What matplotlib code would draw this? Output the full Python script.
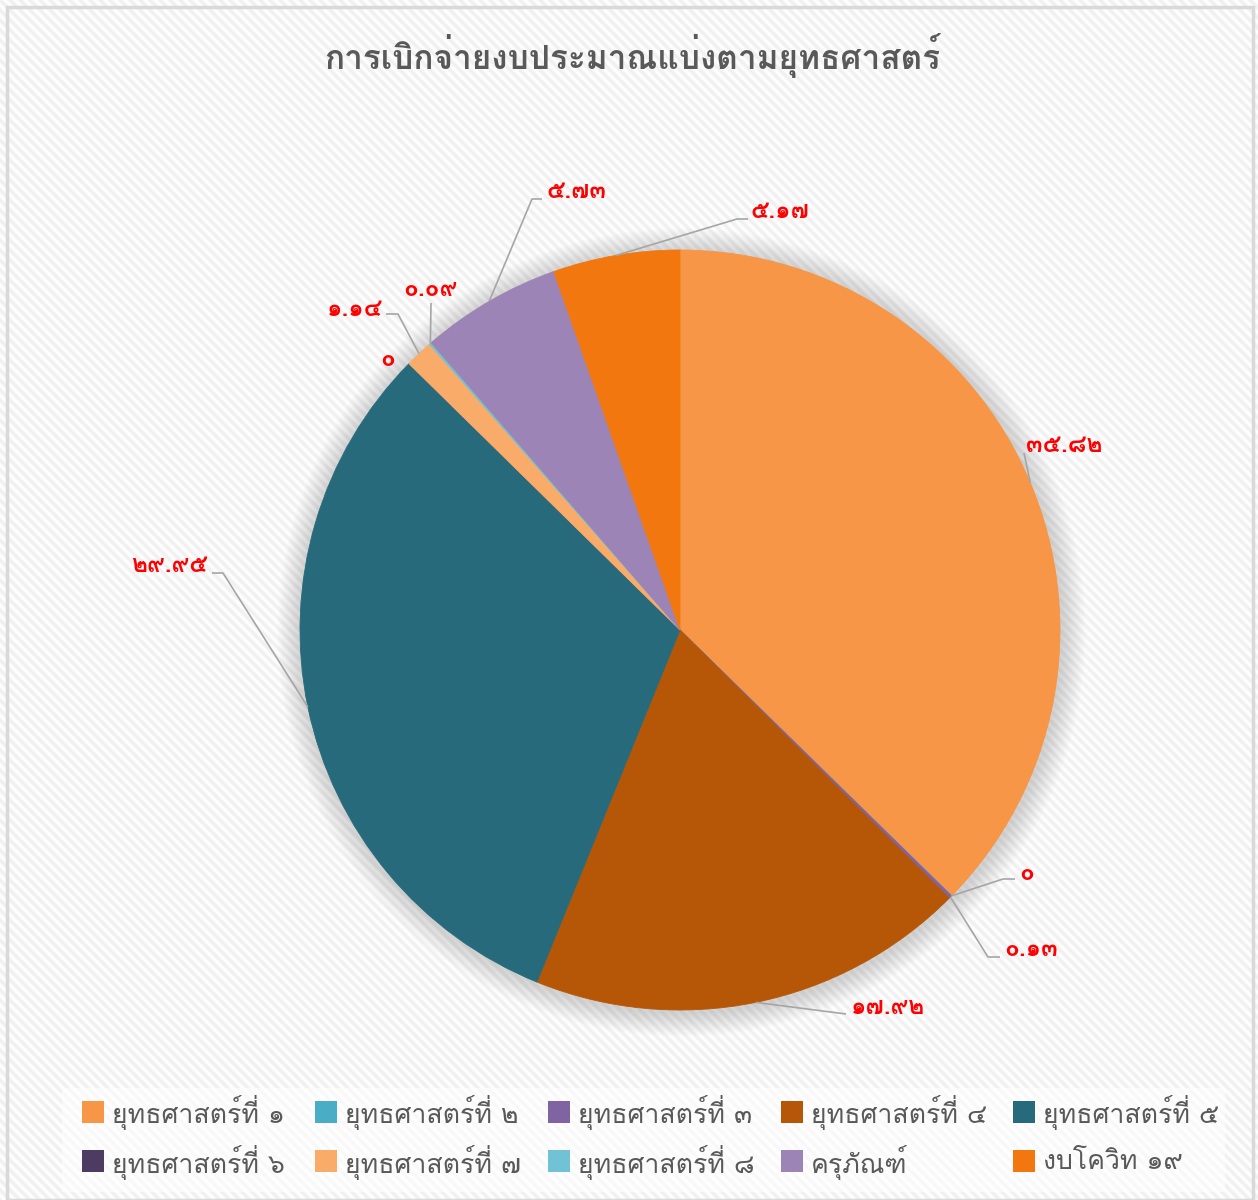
import matplotlib
matplotlib.use("Agg")
import matplotlib.pyplot as plt
import matplotlib.patches as mpatches
import numpy as np

# ---------------- data ----------------
title = "การเบิกจ่ายงบประมาณแบ่งตามยุทธศาสตร์"
categories = ["ยุทธศาสตร์ที่ ๑", "ยุทธศาสตร์ที่ ๒", "ยุทธศาสตร์ที่ ๓", "ยุทธศาสตร์ที่ ๔",
              "ยุทธศาสตร์ที่ ๕", "ยุทธศาสตร์ที่ ๖", "ยุทธศาสตร์ที่ ๗", "ยุทธศาสตร์ที่ ๘",
              "ครุภัณฑ์", "งบโควิท ๑๙"]
values = [35.82, 0, 0.13, 17.92, 29.95, 0, 1.14, 0.09, 5.73, 5.17]
value_labels = ["๓๕.๘๒", "๐", "๐.๑๓", "๑๗.๙๒", "๒๙.๙๕", "๐", "๑.๑๔", "๐.๐๙", "๕.๗๓", "๕.๑๗"]
colors = ["#F79646", "#4BACC6", "#8064A2", "#B65708", "#276A7C",
          "#4D3B62", "#F9AC6A", "#72C2D6", "#9C84B6", "#F2770F"]

# ---------------- layout ----------------
W, H = 1258, 1200
CX, CY, R = 680, 630, 380          # pie centre / radius in pixels
TXT = "#595959"
FONT = ["Loma", "Noto Sans Thai", "DejaVu Sans"]
LFONT = ["Loma", "Noto Sans Thai Looped", "DejaVu Sans"]

def P(px, py):
    return ((px - CX) / R, (CY - py) / R)

fig = plt.figure(figsize=(W / 100, H / 100), dpi=100)
fig.patch.set_facecolor("white")

# striped background
yy, xx = np.mgrid[0:H, 0:W]
phase = ((xx - yy) % 10) / 10.0
stripe = 0.5 + 0.5 * np.cos(2 * np.pi * phase)
shade = 1.0 - 0.06 * stripe
img = np.dstack([shade, shade, shade])
fig.figimage(img, xo=0, yo=0, origin="upper", zorder=-5)

# outer border
fig.patches.append(mpatches.Rectangle((7 / W, 0), (W - 12) / W, (H - 7) / H,
                                      transform=fig.transFigure, fill=False,
                                      edgecolor="#D9D9D9", linewidth=2.5, zorder=-1))

# legend backdrop
fig.patches.append(mpatches.Rectangle((62 / W, 1 - 1192 / H), (1225 - 62) / W, (1192 - 1088) / H,
                                      transform=fig.transFigure, facecolor="white",
                                      edgecolor="none", alpha=0.55, zorder=-1))

# pie axes: 1 data unit = R pixels
ax = fig.add_axes([(CX - 1.5 * R) / W, (H - CY - 1.5 * R) / H, 3 * R / W, 3 * R / H])
ax.set_facecolor("none")
ax.set_zorder(1)

# soft shadow
for k in range(14, 0, -1):
    ax.add_patch(mpatches.Circle((0.004, -0.006), 1 + k * 0.0045, facecolor="#808080",
                                 edgecolor="none", alpha=0.022, zorder=1))

wedges, _ = ax.pie(values, colors=colors, startangle=90, counterclock=False,
                   radius=1.0, wedgeprops=dict(linewidth=0.6, zorder=2))
for w, c in zip(wedges, colors):
    w.set_edgecolor(c)
ax.set_xlim(-1.5, 1.5)
ax.set_ylim(-1.5, 1.5)
ax.axis("off")

# label layout: (elbow px, end px, text px, ha)  ; None = no leader
label_layout = [
    ((1024, 453), None, (1026, 446), "left"),
    ((1003, 879), (1015, 879), (1019, 873), "left"),
    ((988, 957), (1000, 957), (1004, 950), "left"),
    ((846, 1014), None, (851, 1008), "left"),
    ((223, 573), (212, 573), (208, 566), "right"),
    (None, None, (388, 359), "center"),
    ((398, 314), (386, 314), (383, 309), "right"),
    ((431, 303), None, (430, 289), "center"),
    ((532, 199), (542, 199), (546, 192), "left"),
    ((737, 219), (748, 219), (751, 212), "left"),
]

for w, lab, (elbow, end, tpos, ha) in zip(wedges, value_labels, label_layout):
    th = np.deg2rad(0.5 * (w.theta1 + w.theta2))
    ax0 = (np.cos(th), np.sin(th))
    if elbow is not None:
        pts = [ax0, P(*elbow)] + ([P(*end)] if end is not None else [])
        xs, ys = zip(*pts)
        ax.plot(xs, ys, color="#A6A6A6", linewidth=1.2, zorder=3, solid_capstyle="butt")
    tx, ty = P(*tpos)
    ax.text(tx, ty, lab, color="#FF0000", fontsize=17.5, fontweight="bold",
            family=LFONT, ha=ha, va="center", zorder=4)

# title
fig.text(632 / W, 1 - 55 / H, title, ha="center", va="center", fontsize=24,
         fontweight="bold", color=TXT, family=FONT)

# legend
col_x = [82, 315, 548, 781, 1013]
row_y = [1112, 1161]
for i, (lab, c) in enumerate(zip(categories, colors)):
    mx = col_x[i % 5]
    my = row_y[i // 5]
    fig.patches.append(mpatches.Rectangle((mx / W, 1 - (my + 11) / H), 22 / W, 22 / H,
                                          transform=fig.transFigure, facecolor=c,
                                          edgecolor="none", zorder=2))
    fig.text((mx + 30) / W, 1 - (my + 1) / H, lab, ha="left", va="center",
             fontsize=19.2, color=TXT, family=FONT, zorder=3)

fig.savefig("out.png", dpi=100)
